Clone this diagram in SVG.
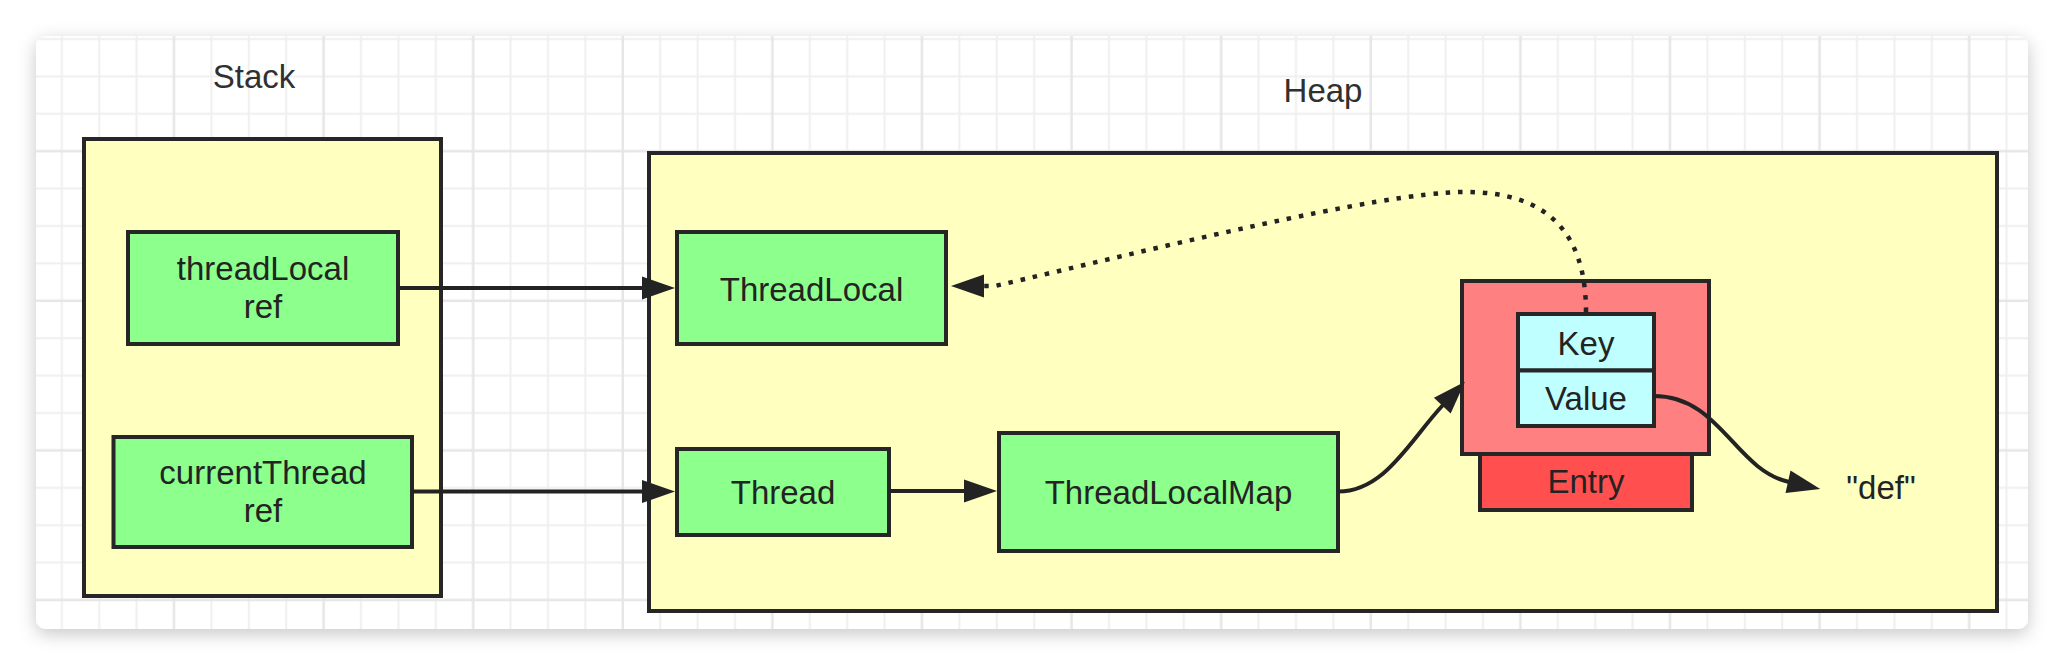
<svg xmlns="http://www.w3.org/2000/svg" width="2064" height="666" viewBox="0 0 2064 666">
<style>
text{font-family:"Liberation Sans","Noto Sans",Arial,sans-serif;font-size:33px;fill:#232323;text-anchor:middle}
.title{fill:#303030}
.box{stroke:#262626;stroke-width:4}
.yellow{fill:#ffffc0}
.green{fill:#8cff8c}
.pink{fill:#ff8080}
.red{fill:#ff4f4f}
.cyan{fill:#c0ffff}
.edge{fill:none;stroke:#232323;stroke-width:4}
.dotted{fill:none;stroke:#232323;stroke-width:4.5;stroke-dasharray:4.5 7.9}
</style>
<defs>
<filter id="shadow" x="-5%" y="-10%" width="110%" height="125%">
<feDropShadow dx="0" dy="5" stdDeviation="9" flood-color="#000" flood-opacity="0.22"/>
</filter>
<pattern id="grid" patternUnits="userSpaceOnUse" x="155.3" y="132.5" width="149.6" height="149.6">
<path d="M56.1,0V149.6M93.5,0V149.6M130.9,0V149.6M0,56.1H149.6M0,93.5H149.6M0,130.9H149.6" stroke="#efefef" stroke-width="2"/>
<path d="M18.7,0V149.6M0,18.7H149.6" stroke="#e6e6e6" stroke-width="2.5"/>
</pattern>
<marker id="ah" markerUnits="userSpaceOnUse" viewBox="0 0 34 23" markerWidth="34" markerHeight="23" refX="1" refY="11.5" orient="auto" overflow="visible">
<path d="M0,0 L33,11.5 L0,23 Z" fill="#232323"/>
</marker>
</defs>
<rect width="2064" height="666" fill="#ffffff"/>
<rect x="36" y="36" width="1992" height="593" rx="10" fill="#ffffff" filter="url(#shadow)"/>
<rect x="36" y="36" width="1992" height="593" rx="10" fill="url(#grid)"/>

<text class="title" x="254" y="88">Stack</text>
<text class="title" x="1323" y="101.5">Heap</text>

<g id="stack">
<rect class="box yellow" x="84" y="139" width="357" height="457"/>
</g>
<g id="heap">
<rect class="box yellow" x="649" y="153" width="1348" height="458"/>
</g>

<g id="threadLocalRef">
<rect class="box green" x="128" y="232" width="270" height="112"/>
<text x="263" y="280">threadLocal</text>
<text x="263" y="317.5">ref</text>
</g>
<g id="currentThreadRef">
<rect class="box green" x="113.5" y="437" width="298.5" height="110"/>
<text x="263" y="484">currentThread</text>
<text x="263" y="521.5">ref</text>
</g>
<g id="threadLocal">
<rect class="box green" x="677" y="232" width="269" height="112"/>
<text x="811.5" y="300.5">ThreadLocal</text>
</g>
<g id="thread">
<rect class="box green" x="677" y="449" width="212" height="86"/>
<text x="783" y="504">Thread</text>
</g>
<g id="threadLocalMap">
<rect class="box green" x="999" y="433" width="339" height="118"/>
<text x="1168.5" y="504">ThreadLocalMap</text>
</g>
<g id="entry">
<rect class="box pink" x="1462" y="281" width="247" height="173"/>
<rect class="box red" x="1480" y="454" width="212" height="56"/>
<text x="1586" y="493">Entry</text>
</g>
<g id="key">
<rect class="box cyan" x="1518" y="314" width="136" height="56.5"/>
<text x="1586" y="355">Key</text>
</g>
<g id="value">
<rect class="box cyan" x="1518" y="370.5" width="136" height="55.5"/>
<text x="1586" y="409.5">Value</text>
</g>
<g id="def">
<text x="1881" y="499">"def"</text>
</g>

<g id="connectors">
<path class="edge" d="M398,288 H643" marker-end="url(#ah)"/>
<path class="edge" d="M412,491.5 H643" marker-end="url(#ah)"/>
<path class="edge" d="M889,491 H965" marker-end="url(#ah)"/>
<path class="edge" d="M1338,491.5 C1385,491.5 1410,440 1443,405" marker-end="url(#ah)"/>
<path class="edge" d="M1654,396 C1720,396 1735,470 1789,482" marker-end="url(#ah)"/>
<path class="dotted" d="M1586,312 C1586,230 1545,192 1465,192 C1380,192 1150,250 995,286 L983,286" marker-end="url(#ah)"/>
</g>
</svg>
